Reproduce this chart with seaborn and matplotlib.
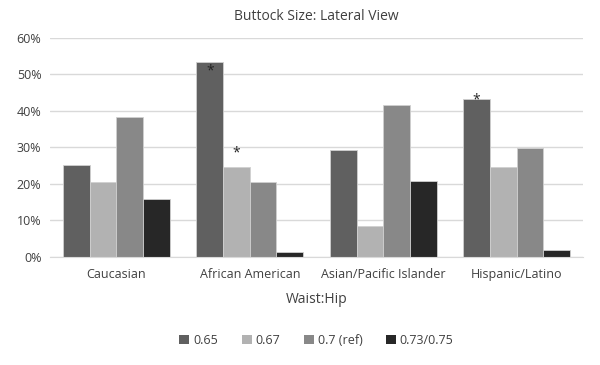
import matplotlib
matplotlib.use("Agg")
import matplotlib.pyplot as plt
import seaborn as sns
import pandas as pd

# Chart values
groups = ["Caucasian", "African American", "Asian/Pacific Islander", "Hispanic/Latino"]
ratios = ["0.65", "0.67", "0.7 (ref)", "0.73/0.75"]
v_065 = [0.252, 0.534, 0.293, 0.433]
v_067 = [0.205, 0.247, 0.085, 0.247]
v_070 = [0.384, 0.205, 0.416, 0.299]
v_073 = [0.159, 0.014, 0.208, 0.020]
# asterisks: (group, ratio, y position)
stars = [("African American", "0.65", 0.51), ("African American", "0.67", 0.285),
         ("Hispanic/Latino", "0.65", 0.43)]

colors = ["#606060", "#b2b2b2", "#888888", "#272727"]

rows = []
for r, vals in zip(ratios, [v_065, v_067, v_070, v_073]):
    for g, v in zip(groups, vals):
        rows.append({"group": g, "ratio": r, "value": v})
df = pd.DataFrame(rows)

sns.set_style("white")
plt.rcParams["font.family"] = ["Open Sans", "DejaVu Sans"]

fig = plt.figure(figsize=(6, 3.65), dpi=100)
ax = fig.add_axes([0.083, 0.296, 0.889, 0.6])

sns.barplot(data=df, x="group", y="value", hue="ratio", order=groups,
            hue_order=ratios, palette=colors, width=0.8, ax=ax,
            edgecolor="#d0d0d0", linewidth=0.6, saturation=1)

# asterisks over the marked bars
n = len(ratios)
for g, r, y in stars:
    gi = groups.index(g)
    ri = ratios.index(r)
    x = gi - 0.4 + 0.8 / n * (ri + 0.5)
    ax.text(x, y, "*", ha="center", va="center", fontsize=10, color="#222222")

ax.set_ylim(0, 0.6)
ax.set_xlim(-0.5, len(groups) - 0.5)
ax.set_yticks([i / 10 for i in range(7)])
ax.set_yticklabels([f"{i * 10}%" for i in range(7)])
ax.yaxis.grid(True, color="#d9d9d9", linewidth=1)
ax.set_axisbelow(True)
for s in ["top", "right", "left"]:
    ax.spines[s].set_visible(False)
ax.spines["bottom"].set_color("#d9d9d9")
ax.tick_params(axis="both", length=0, labelsize=9, colors="#404040", pad=6)
ax.tick_params(axis="x", pad=8)

ax.set_title("Buttock Size: Lateral View", fontsize=10, color="#404040", pad=13)
ax.set_xlabel("Waist:Hip", fontsize=10, color="#404040", labelpad=8)
ax.set_ylabel("")

ax.legend(loc="upper center", bbox_to_anchor=(0.5, -0.3), ncol=4, frameon=False,
          fontsize=9, handlelength=0.8, handleheight=0.8, columnspacing=1.9,
          handletextpad=0.3, labelcolor="#404040")
for h in ax.get_legend().legend_handles:
    h.set_edgecolor("none")

fig.savefig("out.png", dpi=100)
